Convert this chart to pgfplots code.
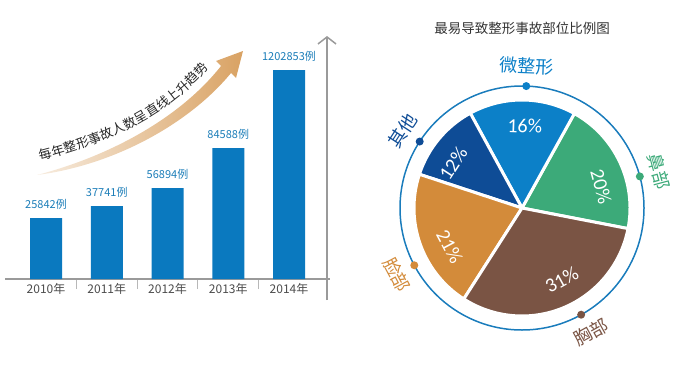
\documentclass[border=0pt]{standalone}
\usepackage{pgfplots}
\pgfplotsset{compat=1.18}
\usepackage{pgfplotstable}
\usepackage{fontspec}
\setmainfont{Noto Sans CJK SC}
\newfontfamily\carlito{Carlito}
\usetikzlibrary{arrows.meta,decorations.text}
\definecolor{cBar}{HTML}{0A79BF}
\definecolor{cLabel}{HTML}{1B7DB8}
\definecolor{cAxis}{HTML}{9A9A9A}
\definecolor{cArrow}{HTML}{D9A263}
\definecolor{cRing}{HTML}{1A7CBC}
\definecolor{cBlue}{HTML}{0C80C8}
\definecolor{cGreen}{HTML}{3CAA79}
\definecolor{cBrown}{HTML}{7A5444}
\definecolor{cOrange}{HTML}{D38B3A}
\definecolor{cDark}{HTML}{0E4C96}

\pgfplotstableread{
x h n
0 61 25842
1 73 37741
2 91 56894
3 131 84588
4 209 1202853
}\bardata

\begin{document}
\begin{tikzpicture}
\useasboundingbox (0,0) rectangle (688pt,368pt);

% ---------- bar chart ----------
\begin{axis}[
  at={(5pt,89pt)}, anchor=south west,
  scale only axis, width=325pt, height=242pt,
  xmin=-0.675, xmax=4.675, ymin=0, ymax=242,
  axis x line=bottom, hide y axis,
  axis line style={draw=cAxis, line width=1.2pt, -},
  x axis line style={-},
  xtick={0,1,2,3,4},
  xticklabels={2010年,2011年,2012年,2013年,2014年},
  major tick length=0pt,
  minor xtick={0.5,1.5,2.5,3.5},
  minor tick length=10pt,
  tick align=outside,
  minor tick style={draw=cAxis!70, line width=0.8pt},
  xticklabel style={font=\fontsize{12}{12}\selectfont, text=black!70, yshift=-1pt},
  ybar, bar width=32pt, clip=false,
  point meta=explicit symbolic,
  nodes near coords={\pgfplotspointmeta 例},
  every node near coord/.append style={font=\fontsize{11}{11}\selectfont, text=cLabel, yshift=5pt},
]
\addplot[fill=cBar, draw=none] table[x=x, y=h, meta=n] {\bardata};
\end{axis}

\draw[cAxis, line width=1.5pt, -{Straight Barb[length=7pt,width=18pt]}] (327pt,68pt) -- (327pt,332pt);

% trend arrow
\path[left color=cArrow!20, right color=cArrow]
  (37pt,193pt) .. controls (110pt,212pt) and (180pt,250pt) .. (221pt,302pt)
  -- (216pt,307pt) -- (243pt,317pt) -- (236pt,290pt) -- (231pt,295pt)
  .. controls (190pt,245pt) and (115pt,203pt) .. (37pt,193pt) -- cycle;
\path[decorate, decoration={text along path, text align=center,
  text={|\fontsize{13}{13}\selectfont\color{black!85}|每年整形事故人数呈直线上升趋势}}]
  (40pt,207pt) .. controls (102pt,223pt) and (168pt,250pt) .. (209pt,301pt);

% ---------- pie chart ----------
\node[font=\fontsize{13.5}{14}\selectfont, text=black!80] at (522pt,340pt) {最易导致整形事故部位比例图};

\begin{axis}[
  at={(522pt,160pt)}, anchor=center,
  scale only axis, width=300pt, height=300pt,
  xmin=-150, xmax=150, ymin=-150, ymax=150,
  hide axis, clip=false,
]
\draw[cRing, line width=1.5pt] (0,0) circle[radius=122pt];
\pgfmathsetmacro\cur{-11}
\foreach \pct/\col/\name/\la in {20/cGreen/鼻部/15, 16/cBlue/微整形/88, 12/cDark/其他/147, 21/cOrange/脸部/208, 31/cBrown/胸部/299}{
  \pgfmathsetmacro\e{\cur+3.6*\pct}
  \pgfmathsetmacro\rot{\la<180 ? \la-90 : \la-270}
  \edef\temp{
    \noexpand\fill[\col, draw=white, line width=3pt, line join=round] (0,0) -- ++(\cur:108pt) arc[start angle=\cur, end angle=\e, radius=108pt] -- cycle;
    \noexpand\fill[\col] (0,0) ++(\la:122pt) circle[radius=4pt];
    \noexpand\path (0,0) ++(\la:82pt) node[rotate=\rot, text=white, font=\noexpand\carlito\noexpand\fontsize{20}{20}\noexpand\selectfont] {\pct\noexpand\%};
    \noexpand\path (0,0) ++(\la:142pt) node[rotate=\rot, text=\col, font=\noexpand\fontsize{18}{18}\noexpand\selectfont] {\name};
  }
  \temp
  \global\let\cur\e
}
\end{axis}
\end{tikzpicture}
\end{document}
